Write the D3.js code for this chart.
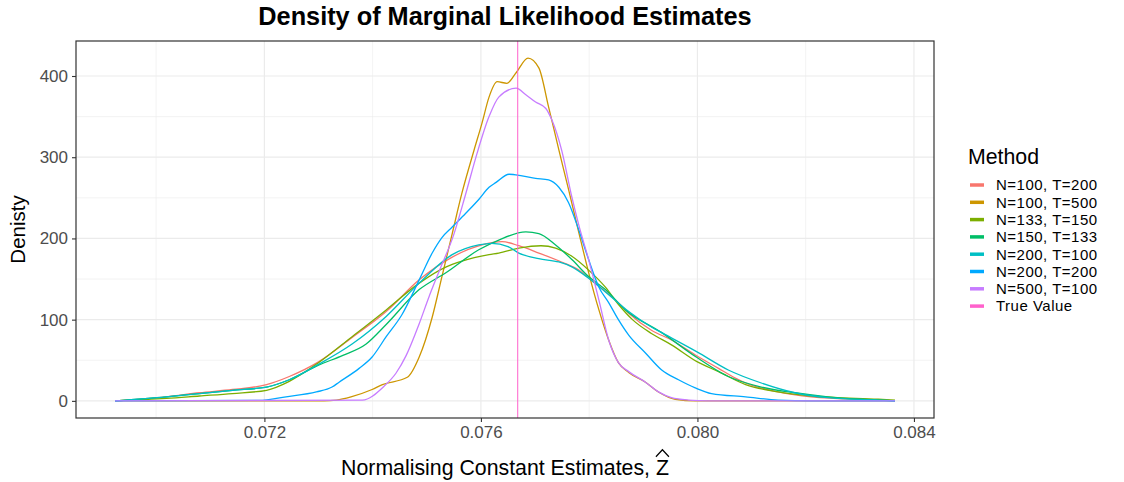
<!DOCTYPE html>
<html><head><meta charset="utf-8">
<script src="https://cdn.jsdelivr.net/npm/d3@7"></script>
<style>body{margin:0;background:#fff} svg text{font-family:"Liberation Sans",Arial,Helvetica,sans-serif}</style>
</head><body><svg id="c" width="1124" height="482"></svg>
<script>
// ---- data (z estimate, density) ----
const methods = ["N=100, T=200","N=100, T=500","N=133, T=150","N=150, T=133","N=200, T=100","N=200, T=200","N=500, T=100","True Value"];
const colors  = ["#F8766D","#CD9600","#7CAE00","#00BE67","#00BFC4","#00A9FF","#C77CFF","#FF61CC"];
const xTicks = [0.072, 0.076, 0.080, 0.084];
const xMinor = [0.070, 0.074, 0.078, 0.082];
const yTicks = [0, 100, 200, 300, 400];
const yMinor = [50, 150, 250, 350];
const trueValue = 0.07668;

const densN100T200 = [[0.06924,0],[0.07019,5],[0.07080,10],[0.07141,14],[0.07204,20],[0.07246,30],[0.07300,48],[0.07362,78],[0.07425,110],[0.07486,149],[0.07547,177],[0.07602,192],[0.07639,196],[0.07670,191],[0.07707,182],[0.07749,171],[0.07781,161],[0.07805,148],[0.07849,124],[0.07873,108],[0.07915,87],[0.07952,75],[0.08000,55],[0.08039,40],[0.08070,28],[0.08089,22],[0.08149,11],[0.08210,5],[0.08334,1],[0.08365,0]];
const densN100T500 = [[0.06924,0],[0.07310,0],[0.07333,1],[0.07360,5],[0.07399,14],[0.07418,20],[0.07464,29],[0.07486,54],[0.07510,103],[0.07528,153],[0.07547,206],[0.07565,256],[0.07587,308],[0.07602,342],[0.07615,374],[0.07630,393],[0.07648,391],[0.07665,404],[0.07687,422],[0.07707,410],[0.07725,362],[0.07744,309],[0.07762,260],[0.07781,207],[0.07799,158],[0.07818,112],[0.07836,75],[0.07854,47],[0.07873,35],[0.07904,23],[0.07928,11],[0.07959,2],[0.07996,0],[0.08365,0]];
const densN133T150 = [[0.06924,0],[0.07019,3],[0.07080,6],[0.07141,9],[0.07204,13],[0.07246,24],[0.07300,47],[0.07362,79],[0.07425,112],[0.07486,145],[0.07536,165],[0.07565,172],[0.07615,180],[0.07633,182],[0.07670,188],[0.07711,191],[0.07738,188],[0.07768,178],[0.07799,161],[0.07830,140],[0.07855,118],[0.07880,100],[0.07915,83],[0.07952,69],[0.08000,48],[0.08039,36],[0.08089,20],[0.08149,11],[0.08210,6],[0.08334,2],[0.08365,1]];
const densN150T133 = [[0.06924,0],[0.07019,5],[0.07080,9],[0.07141,13],[0.07204,17],[0.07246,26],[0.07300,44],[0.07345,56],[0.07388,70],[0.07425,94],[0.07486,137],[0.07536,158],[0.07596,186],[0.07633,198],[0.07683,208],[0.07707,206],[0.07738,192],[0.07768,174],[0.07799,153],[0.07830,137],[0.07867,112],[0.07934,84],[0.08000,53],[0.08057,30],[0.08118,17],[0.08180,10],[0.08241,5],[0.08334,1],[0.08365,0]];
const densN200T100 = [[0.06924,0],[0.07019,5],[0.07080,9],[0.07141,13],[0.07204,17],[0.07246,26],[0.07300,45],[0.07362,70],[0.07425,104],[0.07486,145],[0.07547,180],[0.07596,192],[0.07620,194],[0.07650,190],[0.07670,182],[0.07707,175],[0.07744,171],[0.07768,165],[0.07799,151],[0.07841,128],[0.07873,110],[0.07915,91],[0.07934,84],[0.08000,60],[0.08057,38],[0.08118,22],[0.08180,10],[0.08241,4],[0.08334,1],[0.08365,0]];
const densN200T200 = [[0.06924,0],[0.07190,0.5],[0.07240,5],[0.07296,11],[0.07325,17],[0.07338,23],[0.07375,40],[0.07399,54],[0.07425,79],[0.07454,106],[0.07486,149],[0.07510,182],[0.07528,201],[0.07547,214],[0.07572,231],[0.07596,248],[0.07615,263],[0.07628,269],[0.07652,279],[0.07676,277],[0.07701,274],[0.07725,272],[0.07744,263],[0.07762,244],[0.07781,210],[0.07799,174],[0.07818,140],[0.07836,121],[0.07854,100],[0.07873,81],[0.07904,59],[0.07934,38],[0.07965,26],[0.07996,16],[0.08026,9],[0.08089,5],[0.08149,1],[0.08210,0],[0.08365,0]];
const densN500T100 = [[0.06924,0],[0.07381,1],[0.07421,18],[0.07443,34],[0.07462,56],[0.07486,95],[0.07504,128],[0.07523,160],[0.07550,205],[0.07572,255],[0.07593,305],[0.07615,350],[0.07633,374],[0.07665,385],[0.07683,377],[0.07701,368],[0.07720,360],[0.07731,346],[0.07749,309],[0.07768,251],[0.07781,216],[0.07799,174],[0.07818,124],[0.07836,75],[0.07854,47],[0.07873,36],[0.07904,23],[0.07928,11],[0.07952,4],[0.07983,1],[0.08020,0],[0.08365,0]];

const seriesData = [densN100T200, densN100T500, densN133T150, densN150T133, densN200T100, densN200T200, densN500T100];

// ---- layout ----
const svg = d3.select("#c");
const P = {l:76, r:934, t:41, b:418};
const allZ = seriesData.flat().map(d=>d[0]);
const allD = seriesData.flat().map(d=>d[1]);
const zExt = d3.extent(allZ), zPad = (zExt[1]-zExt[0])*0.05;
const dMax = d3.max(allD), dPad = dMax*0.05;
const x = d3.scaleLinear().domain([zExt[0]-zPad, zExt[1]+zPad]).range([P.l, P.r]);
const y = d3.scaleLinear().domain([-dPad, dMax+dPad]).range([P.b, P.t]);

const grid = svg.append("g");
grid.selectAll(".xm").data(xMinor).enter().append("line")
  .attr("x1",d=>x(d)).attr("x2",d=>x(d)).attr("y1",P.t).attr("y2",P.b)
  .attr("stroke","#EBEBEB").attr("stroke-width",0.6);
grid.selectAll(".ym").data(yMinor).enter().append("line")
  .attr("y1",d=>y(d)).attr("y2",d=>y(d)).attr("x1",P.l).attr("x2",P.r)
  .attr("stroke","#EBEBEB").attr("stroke-width",0.6);
grid.selectAll(".xM").data(xTicks).enter().append("line")
  .attr("x1",d=>x(d)).attr("x2",d=>x(d)).attr("y1",P.t).attr("y2",P.b)
  .attr("stroke","#EBEBEB").attr("stroke-width",1.2);
grid.selectAll(".yM").data(yTicks).enter().append("line")
  .attr("y1",d=>y(d)).attr("y2",d=>y(d)).attr("x1",P.l).attr("x2",P.r)
  .attr("stroke","#EBEBEB").attr("stroke-width",1.2);

svg.append("clipPath").attr("id","clip").append("rect")
  .attr("x",P.l).attr("y",P.t).attr("width",P.r-P.l).attr("height",P.b-P.t);

const line = d3.line().x(d=>x(d[0])).y(d=>y(d[1])).curve(d3.curveMonotoneX);
const lines = svg.append("g").attr("clip-path","url(#clip)");
seriesData.forEach((s,i)=>{
  lines.append("path").attr("d",line(s)).attr("fill","none")
    .attr("stroke",colors[i]).attr("stroke-width",1.3);
});
lines.append("line").attr("x1",x(trueValue)).attr("x2",x(trueValue))
  .attr("y1",P.t).attr("y2",P.b).attr("stroke",colors[7]).attr("stroke-width",1);

svg.append("rect").attr("x",P.l).attr("y",P.t).attr("width",P.r-P.l).attr("height",P.b-P.t)
  .attr("fill","none").attr("stroke","#333333").attr("stroke-width",1.2);

// axes
const xAxis = svg.append("g").attr("transform",`translate(0,${P.b})`)
  .call(d3.axisBottom(x).tickValues(xTicks).tickFormat(d3.format(".3f")).tickSize(4).tickPadding(4));
const yAxis = svg.append("g").attr("transform",`translate(${P.l},0)`)
  .call(d3.axisLeft(y).tickValues(yTicks).tickFormat(d3.format("d")).tickSize(4).tickPadding(4));
[xAxis,yAxis].forEach(a=>{
  a.select(".domain").remove();
  a.selectAll(".tick line").attr("stroke","#333333").attr("stroke-width",1.1);
  a.selectAll(".tick text").attr("fill","#4D4D4D").style("font-size","17px")
    .style("font-family","'Liberation Sans',Arial,sans-serif");
});

// titles
svg.append("text").attr("x",(P.l+P.r)/2).attr("y",25).attr("text-anchor","middle")
  .style("font-size","25.3px").style("font-weight","bold").text("Density of Marginal Likelihood Estimates");

const xFs = 21.3, xBase = 475;
const xt = svg.append("text").attr("x",(P.l+P.r)/2).attr("y",xBase).attr("text-anchor","middle")
  .style("font-size",xFs+"px").attr("fill","#000");
xt.append("tspan").text("Normalising Constant Estimates, ");
xt.append("tspan").text("Z");
// wide hat over Z
const full = xt.node();
const n = full.getNumberOfChars();
const st = full.getStartPositionOfChar(n-1), en = full.getEndPositionOfChar(n-1);
const zx0 = st.x, zx1 = en.x, zTop = xBase - xFs*0.716;
svg.append("path").attr("d",`M${zx0},${zTop-3} L${(zx0+zx1)/2},${zTop-10} L${zx1},${zTop-3}`)
  .attr("fill","none").attr("stroke","#000").attr("stroke-width",1.2);

svg.append("text").attr("transform",`translate(25,${(P.t+P.b)/2}) rotate(-90)`)
  .attr("text-anchor","middle").style("font-size","20.5px").text("Denisty");

// legend
const lg = svg.append("g").attr("transform","translate(968,0)");
lg.append("text").attr("x",0).attr("y",164).style("font-size","21.3px").text("Method");
methods.forEach((m,i)=>{
  const cy = 185 + i*17.3;
  lg.append("line").attr("x1",2).attr("x2",16).attr("y1",cy).attr("y2",cy)
    .attr("stroke",colors[i]).attr("stroke-width",3.5);
  lg.append("text").attr("x",28).attr("y",cy+5.3).style("font-size","15px")
    .style("letter-spacing","0.5px").text(m);
});
</script></body></html>
